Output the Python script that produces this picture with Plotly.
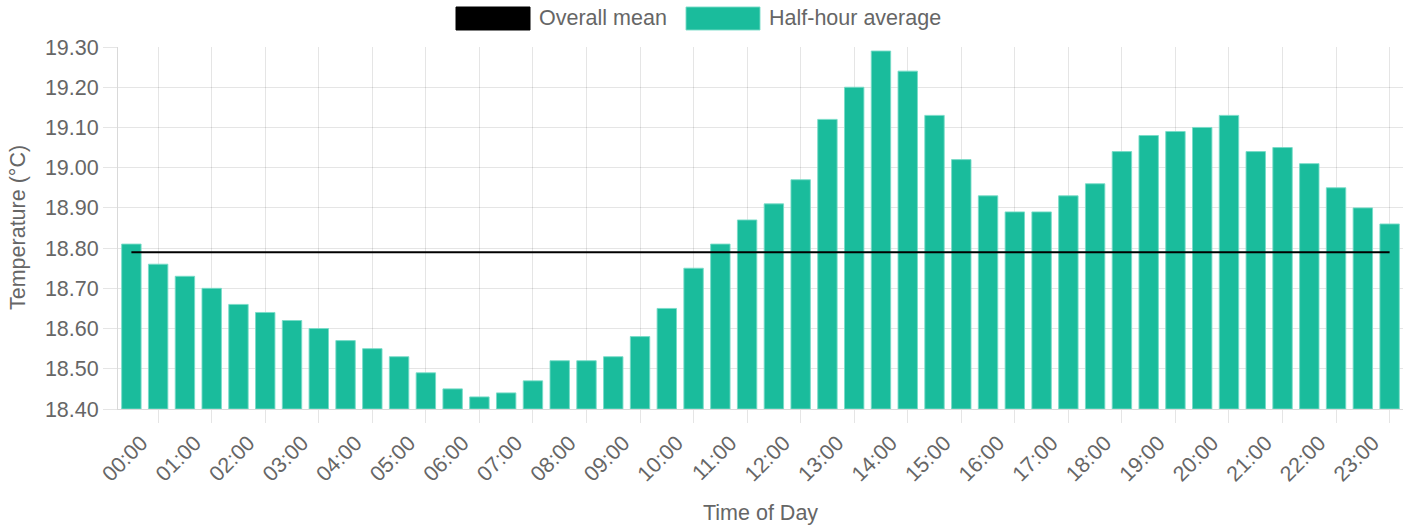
import plotly.graph_objects as go

# ---- data ----
times = [f"{h:02d}:{m:02d}" for h in range(24) for m in (0, 30)]
half_hour_avg = [
    18.81, 18.76, 18.73, 18.70, 18.66, 18.64, 18.62, 18.60, 18.57, 18.55,
    18.53, 18.49, 18.45, 18.43, 18.44, 18.47, 18.52, 18.52, 18.53, 18.58,
    18.65, 18.75, 18.81, 18.87, 18.91, 18.97, 19.12, 19.20, 19.29, 19.24,
    19.13, 19.02, 18.93, 18.89, 18.89, 18.93, 18.96, 19.04, 19.08, 19.09,
    19.10, 19.13, 19.04, 19.05, 19.01, 18.95, 18.90, 18.86,
]
overall_mean = 18.79
y_ticks = [18.40, 18.50, 18.60, 18.70, 18.80, 18.90, 19.00, 19.10, 19.20, 19.30]

pos = list(range(len(times)))
label_pos = pos[::2]
label_text = times[::2]

TEAL = "#1abc9c"
TXT = "#666666"
GRID = "rgba(0,0,0,0.1)"
FONT = "Liberation Sans, Arial, sans-serif"
FS = 21.5

fig = go.Figure()
fig.add_trace(go.Bar(
    x=pos, y=[v - y_ticks[0] for v in half_hour_avg], base=y_ticks[0],
    marker=dict(color=TEAL, line=dict(color="rgba(120,220,200,0.9)", width=1)),
    name="Half-hour average", showlegend=False,
))
fig.add_trace(go.Scatter(
    x=[pos[0], pos[-1]], y=[overall_mean, overall_mean], mode="lines",
    line=dict(color="black", width=2), name="Overall mean", showlegend=False,
))

# plot-area pixel geometry (page body margin removed via post_script)
L, R, T, B = 118, 12, 47, 120
W, H = 1415, 529
pw = W - L - R
ph = H - T - B

def px_x(p):  # page pixel -> paper
    return (p - L) / pw

def px_y(p):
    return (H - B - p) / ph

shapes = []
annotations = []
legend_items = [("Overall mean", "black", "black", 456), ("Half-hour average", TEAL, "rgba(120,220,200,0.9)", 686)]
for name, fill, line, x0 in legend_items:
    shapes.append(dict(type="rect", xref="paper", yref="paper",
                       x0=px_x(x0), x1=px_x(x0 + 74), y0=px_y(30), y1=px_y(7),
                       fillcolor=fill, line=dict(color=line, width=1)))
    annotations.append(dict(xref="paper", yref="paper", x=px_x(x0 + 82), y=px_y(18.5),
                            text=name, showarrow=False, xanchor="left", yanchor="middle",
                            borderpad=0,
                            font=dict(family=FONT, size=FS, color=TXT)))

# axis titles
annotations.append(dict(xref="paper", yref="paper", x=0.5, y=px_y(513),
                        text="Time of Day", showarrow=False, xanchor="center", yanchor="middle",
                        borderpad=0, font=dict(family=FONT, size=FS, color=TXT)))
annotations.append(dict(xref="paper", yref="paper", x=px_x(18), y=0.5,
                        text="Temperature (°C)", showarrow=False, textangle=-90,
                        xanchor="center", yanchor="middle",
                        borderpad=0, font=dict(family=FONT, size=FS, color=TXT)))

fig.update_layout(
    width=W, height=H,
    margin=dict(l=L, r=R, t=T, b=B, autoexpand=False),
    plot_bgcolor="white", paper_bgcolor="white",
    bargap=0.275,
    showlegend=False,
    shapes=shapes, annotations=annotations,
    font=dict(family=FONT, size=FS, color=TXT),
)
fig.update_xaxes(
    range=[-0.5, len(times) - 0.5],
    tickmode="array", tickvals=label_pos, ticktext=label_text,
    tickangle=-45, showgrid=False, ticks="",
    ticklabelshift=10, ticklabelstandoff=12,
    tickfont=dict(family=FONT, size=FS, color=TXT),
    minor=dict(tick0=1, dtick=2, showgrid=True, gridcolor=GRID, gridwidth=1,
               ticks="outside", ticklen=13, tickcolor=GRID),
    showline=True, linecolor="rgba(0,0,0,0.15)", linewidth=1,
    zeroline=False, automargin=False,
)
fig.update_yaxes(
    range=[y_ticks[0], y_ticks[-1]],
    tickmode="array", tickvals=y_ticks, ticktext=[f"{v:.2f}" for v in y_ticks],
    showgrid=True, gridcolor=GRID, gridwidth=1,
    ticks="outside", ticklen=14, tickcolor=GRID,
    showline=True, linecolor="rgba(0,0,0,0.15)", linewidth=1,
    zeroline=False, automargin=False,
    tickfont=dict(family=FONT, size=FS, color=TXT),
)

fig.write_html("out.html", config={"displayModeBar": False},
               post_script="document.body.style.margin='0';")
